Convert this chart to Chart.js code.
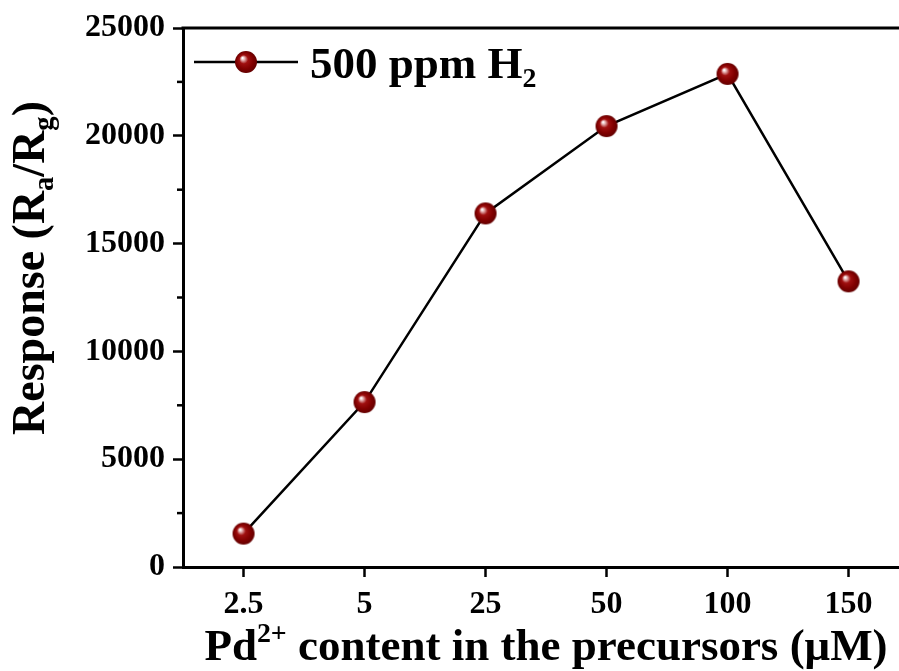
<!DOCTYPE html>
<html>
<head>
<meta charset="utf-8">
<script src="https://cdn.jsdelivr.net/npm/chart.js@4.4.0/dist/chart.umd.min.js"></script>
<style>
  html, body { margin: 0; padding: 0; background: #fff; }
  canvas { display: block; }
</style>
</head>
<body>
<canvas id="grafico" width="899" height="671"></canvas>
<script>
// dados
const categorias = ['2.5', '5', '25', '50', '100', '150'];
const resposta = [1550, 7650, 16400, 20450, 22870, 13250];
const yTicks = [0, 5000, 10000, 15000, 20000, 25000];
const yMinor = [2500, 7500, 12500, 17500, 22500];
const serieNome = [{ t: '500 ppm H' }, { t: '2', sub: true }];
const tituloX = [{ t: 'Pd' }, { t: '2+', sup: true }, { t: ' content in the precursors (\u03bcM)' }];
const tituloY = [{ t: 'Response (R' }, { t: 'a', sub: true }, { t: '/R' }, { t: 'g', sub: true }, { t: ')' }];

const FONTE = "'Liberation Serif', 'Times New Roman', serif";

// marcador "esfera" vermelho escuro
const esfera = document.createElement('canvas');
esfera.width = 24;
esfera.height = 24;
(() => {
    const c = esfera.getContext('2d');
    const g = c.createRadialGradient(8.5, 8, 0.5, 12, 12, 11.5);
    g.addColorStop(0, '#ffffff');
    g.addColorStop(0.12, '#e6b4b4');
    g.addColorStop(0.35, '#a01010');
    g.addColorStop(0.7, '#800000');
    g.addColorStop(1, '#600000');
    c.fillStyle = g;
    c.beginPath();
    c.arc(12, 12, 11, 0, Math.PI * 2);
    c.fill();
})();

// texto com sub/sobrescrito
const larguraRica = (ctx, partes, tam) => {
    let w = 0;
    partes.forEach(p => {
        const s = (p.sub || p.sup) ? tam * 0.62 : tam;
        ctx.font = `bold ${s}px ${FONTE}`;
        w += ctx.measureText(p.t).width;
    });
    return w;
};

const desenharRico = (ctx, partes, x, y, tam) => {
    ctx.textBaseline = 'alphabetic';
    ctx.textAlign = 'left';
    ctx.fillStyle = '#000';
    let cx = x;
    partes.forEach(p => {
        const s = (p.sub || p.sup) ? tam * 0.62 : tam;
        let dy = 0;
        if (p.sup) dy = -tam * 0.4;
        if (p.sub) dy = tam * 0.2;
        ctx.font = `bold ${s}px ${FONTE}`;
        ctx.fillText(p.t, cx, y + dy);
        cx += ctx.measureText(p.t).width;
    });
};

const extras = {
    id: 'extras',
    afterDraw(chart) {
        const ctx = chart.ctx;
        const area = chart.chartArea;
        const y = chart.scales.y;
        ctx.save();

        // borda superior
        ctx.strokeStyle = '#000';
        ctx.lineWidth = 3;
        ctx.beginPath();
        ctx.moveTo(area.left - 1.5, area.top);
        ctx.lineTo(chart.width, area.top);
        ctx.stroke();

        // ticks menores do eixo y
        ctx.lineWidth = 2.5;
        yMinor.forEach(v => {
            const py = y.getPixelForValue(v);
            ctx.beginPath();
            ctx.moveTo(area.left - 6, py);
            ctx.lineTo(area.left, py);
            ctx.stroke();
        });

        // legenda
        ctx.lineWidth = 2.5;
        ctx.beginPath();
        ctx.moveTo(194, 62);
        ctx.lineTo(298, 62);
        ctx.stroke();
        ctx.drawImage(esfera, 246 - 12, 62 - 12);
        desenharRico(ctx, serieNome, 310, 78, 45);

        // título x
        const tamX = 45;
        const wx = larguraRica(ctx, tituloX, tamX);
        desenharRico(ctx, tituloX, 546 - wx / 2, 660, tamX);

        // título y
        const tamY = 46;
        const wy = larguraRica(ctx, tituloY, tamY);
        ctx.translate(44, 268);
        ctx.rotate(-Math.PI / 2);
        desenharRico(ctx, tituloY, -wy / 2, 0, tamY);

        ctx.restore();
    }
};

const ctxGrafico = document.getElementById('grafico').getContext('2d');
new Chart(ctxGrafico, {
    type: 'line',
    data: {
        datasets: [{
            label: '500 ppm H2',
            data: resposta.map((v, i) => ({ x: i, y: v })),
            borderColor: '#000',
            borderWidth: 2.5,
            pointStyle: esfera,
            pointRadius: 11,
            tension: 0,
            clip: false
        }]
    },
    options: {
        responsive: false,
        animation: false,
        layout: { autoPadding: false, padding: { top: 28, right: 0, left: 0, bottom: 0 } },
        plugins: {
            legend: { display: false },
            tooltip: { enabled: false }
        },
        scales: {
            x: {
                type: 'linear',
                min: -0.5,
                max: 5.417,
                afterFit: s => { s.height = 104; s.paddingLeft = 0; s.paddingRight = 0; },
                afterBuildTicks: s => { s.ticks = categorias.map((c, i) => ({ value: i })); },
                grid: {
                    drawOnChartArea: false,
                    tickLength: 10,
                    tickWidth: 2.5,
                    tickColor: '#000'
                },
                border: { display: true, color: '#000', width: 3 },
                ticks: {
                    color: '#000',
                    font: { family: FONTE, size: 32, weight: 'bold' },
                    padding: 9,
                    maxRotation: 0,
                    callback: v => categorias[v]
                }
            },
            y: {
                min: 0,
                max: 25000,
                afterFit: s => { s.width = 183; s.paddingTop = 0; s.paddingBottom = 0; },
                afterBuildTicks: s => { s.ticks = yTicks.map(v => ({ value: v })); },
                grid: {
                    drawOnChartArea: false,
                    tickLength: 10,
                    tickWidth: 2.5,
                    tickColor: '#000'
                },
                border: { display: true, color: '#000', width: 3 },
                ticks: {
                    color: '#000',
                    font: { family: FONTE, size: 32, weight: 'bold' },
                    padding: 8,
                    callback: v => String(v)
                }
            }
        }
    },
    plugins: [extras]
});
</script>
</body>
</html>
